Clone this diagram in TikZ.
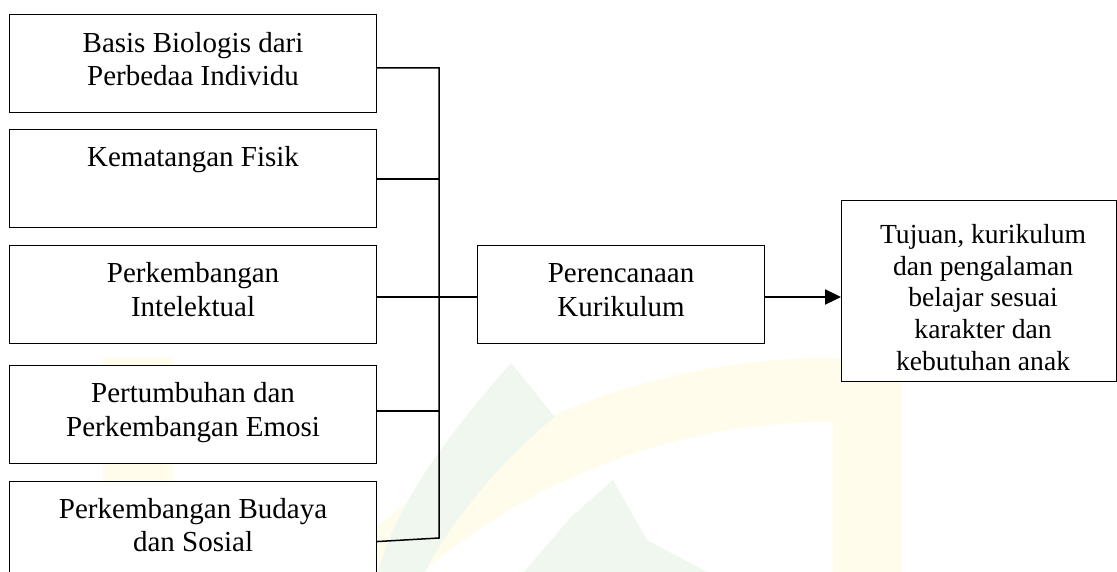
\documentclass[tikz,border=0pt]{standalone}
\usepackage{fontspec}
\setmainfont{Liberation Serif}
\usetikzlibrary{arrows.meta,calc}
\definecolor{wmyellow}{RGB}{255,252,236}
\definecolor{wmgreen}{RGB}{240,247,239}
\begin{document}
\begin{tikzpicture}[x=1pt,y=-1pt,
  box/.style={draw=black, fill=white, line width=1.1pt, rectangle, inner sep=0pt, anchor=north west},
  lbl/.style={anchor=north, inner sep=0pt, align=center, font=\fontsize{29pt}{33.5pt}\selectfont},
  lblsmall/.style={lbl, font=\fontsize{27.6pt}{31.75pt}\selectfont},
  link/.style={draw=black, line width=1.5pt},
  flow/.style={draw=black, line width=2.4pt, -{Triangle[length=16pt,width=15pt]}},
]
\useasboundingbox (0,0) rectangle (1117,572);
\clip (0,0) rectangle (1117,572);

% faint emblem in the background
\begin{scope}
  \clip (0,0) rectangle (902,572);
  \fill[wmyellow, even odd rule] (830,1050) circle[radius=692pt] (830,1050) circle[radius=628pt];
\end{scope}
\fill[wmyellow] (833,358) rectangle (902,572);
\fill[wmyellow] (103,357) rectangle (173,572);
\fill[wmgreen] (511,363) .. controls (470,410) and (400,490) .. (378,572) -- (425,572)
  .. controls (445,530) and (500,460) .. (555,417) -- cycle;
\fill[wmgreen] (613,480) -- (647,540) -- (707,572) -- (524,572) -- (571,517) -- cycle;

% factor boxes
\node[box, minimum width=367pt, minimum height=98pt] (b1) at (9,14) {};
\node[box, minimum width=367pt, minimum height=98pt] (b2) at (9,129) {};
\node[box, minimum width=367pt, minimum height=98pt] (b3) at (9,245) {};
\node[box, minimum width=367pt, minimum height=98pt] (b4) at (9,365) {};
\node[box, minimum width=367pt, minimum height=120pt] (b5) at (9,481) {};

% planning and outcome boxes
\node[box, minimum width=287pt, minimum height=98pt] (m) at (477,245) {};
\node[box, minimum width=275pt, minimum height=181pt] (r) at (841,200) {};

% labels
\node[lbl] (t1) at ($(b1.north)+(0,17.7)$) {Basis Biologis dari\\Perbedaa Individu};
\node[lbl] (t2) at ($(b2.north)+(0,17.2)$) {Kematangan Fisik};
\node[lbl] (t3) at ($(b3.north)+(0,17.2)$) {Perkembangan\\Intelektual};
\node[lbl] (t4) at ($(b4.north)+(0,17.2)$) {Pertumbuhan dan\\Perkembangan Emosi};
\node[lbl] (t5) at ($(b5.north)+(0,16.7)$) {Perkembangan Budaya\\dan Sosial};
\node[lbl] (tm) at ($(m.north)+(0,18.5)$) {Perencanaan\\Kurikulum};
\node[lblsmall] (tr) at ($(r.north)+(4,24.1)$) {Tujuan, kurikulum\\dan pengalaman\\belajar sesuai\\karakter dan\\kebutuhan anak};

% bus joining the factors
\coordinate (j1) at (439,68);
\coordinate (j2) at (439,179);
\coordinate (j3) at (439,297);
\coordinate (j4) at (439,411);
\coordinate (j5) at (439,538);

\draw[link] (b1.east |- j1) -- (j1) -- (j5) -- (b5.east);
\draw[link] (b2.east |- j2) -- (j2);
\draw[link] (b3.east |- j3) -- (m.west |- j3);
\draw[link] (b4.east |- j4) -- (j4);
\draw[flow] (m.east |- j3) -- (r.west |- j3);
\end{tikzpicture}
\end{document}
